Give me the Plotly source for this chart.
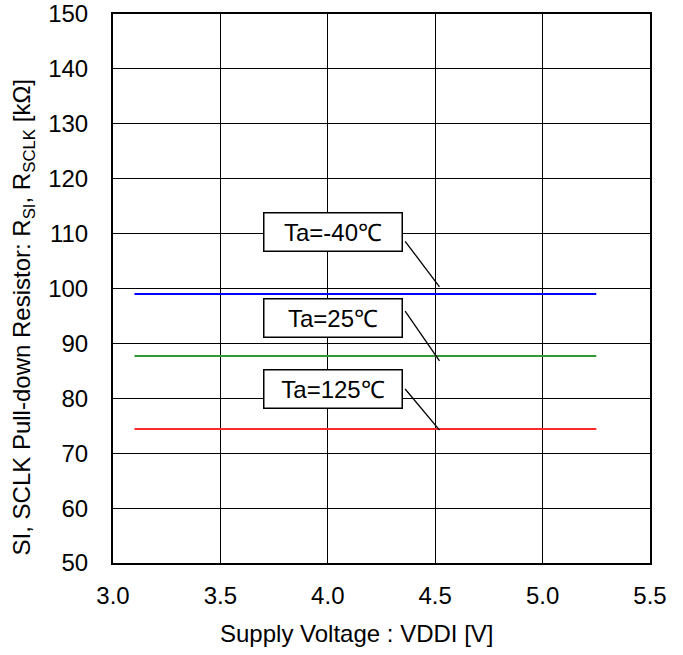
import plotly.graph_objects as go

# ---- data ----
vddi = [3.1, 5.25]
series_names = ["Ta=-40℃", "Ta=25℃", "Ta=125℃"]
r_m40 = [99.0, 99.0]
r_25 = [87.7, 87.7]
r_125 = [74.4, 74.4]
series_values = [r_m40, r_25, r_125]
colors = ["#0000FF", "#339933", "#FF2A2A"]

x_ticks = [3.0, 3.5, 4.0, 4.5, 5.0, 5.5]
y_ticks = [50, 60, 70, 80, 90, 100, 110, 120, 130, 140, 150]

# label box centres (data coords) and leader line ends
label_x = [4.025, 4.025, 4.025]
label_y = [110.3, 94.6, 81.7]
leader_start = [(4.36, 108.6), (4.36, 95.9), (4.36, 81.7)]
leader_end = [(4.52, 100.3), (4.52, 86.8), (4.52, 74.2)]

FONT = "Liberation Sans, Arial, sans-serif"
FS = 24

fig = go.Figure()
for name, vals, c in zip(series_names, series_values, colors):
    fig.add_trace(go.Scatter(x=vddi, y=vals, mode="lines", name=name,
                             line=dict(color=c, width=2), showlegend=False,
                             hoverinfo="skip"))

for i, name in enumerate(series_names):
    fig.add_annotation(x=label_x[i], y=label_y[i], xref="x", yref="y",
                       text=name, showarrow=False,
                       font=dict(family=FONT, size=FS, color="black"),
                       bordercolor="black", borderwidth=1.5, borderpad=7,
                       bgcolor="white", width=123, height=23)
    fig.add_shape(type="line", xref="x", yref="y",
                  x0=leader_start[i][0], y0=leader_start[i][1],
                  x1=leader_end[i][0], y1=leader_end[i][1],
                  line=dict(color="black", width=1.3))

fig.add_annotation(xref="paper", yref="paper", x=-0.166, y=0.447,
                   xanchor="center", yanchor="middle",
                   text="SI, SCLK Pull-down Resistor: R<sub>SI</sub>, R<sub>SCLK</sub> [kΩ]",
                   textangle=-90, showarrow=False,
                   font=dict(family=FONT, size=FS, color="black"))
fig.add_annotation(xref="paper", yref="paper", x=0.454, y=0, yshift=-70,
                   xanchor="center", yanchor="middle",
                   text="Supply Voltage : VDDI [V]", showarrow=False,
                   font=dict(family=FONT, size=FS, color="black"))

fig.update_layout(
    width=683, height=655,
    margin=dict(l=113, r=33, t=14, b=92, autoexpand=False),
    paper_bgcolor="white", plot_bgcolor="white",
    font=dict(family=FONT, size=FS, color="black"),
)
fig.update_xaxes(range=[3.0, 5.5], tickvals=x_ticks,
                 ticktext=[f"{v:.1f}" for v in x_ticks],
                 showgrid=True, gridcolor="black", gridwidth=1,
                 showline=True, linecolor="black", linewidth=2, mirror=True,
                 zeroline=False, ticks="", ticklabelstandoff=10, automargin=False,
                 ticklabeloverflow="allow")
fig.update_yaxes(range=[50, 150], tickvals=y_ticks,
                 showgrid=True, gridcolor="black", gridwidth=1,
                 showline=True, linecolor="black", linewidth=2, mirror=True,
                 zeroline=False, ticks="", ticklabelstandoff=18, automargin=False,
                 ticklabeloverflow="allow")

fig.write_html("out.html", config={"displayModeBar": False},
               post_script="document.body.style.margin='0';")
